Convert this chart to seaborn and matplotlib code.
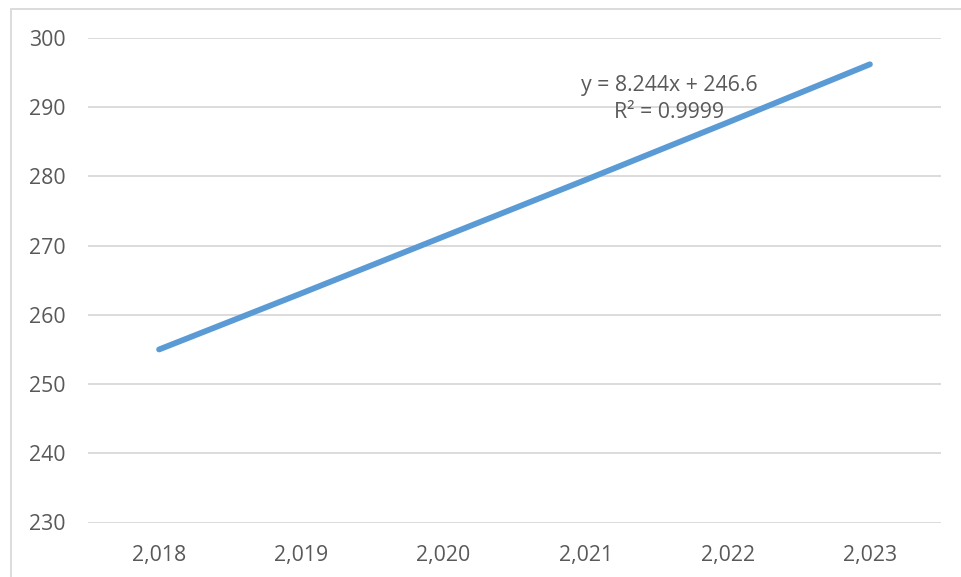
import matplotlib
matplotlib.use("Agg")
import matplotlib.pyplot as plt
from matplotlib.patches import Rectangle
import seaborn as sns
import pandas as pd

# Yearly series
years = [2018, 2019, 2020, 2021, 2022, 2023]
year_labels = ["2,018", "2,019", "2,020", "2,021", "2,022", "2,023"]
values = [255.0, 263.1, 271.3, 279.5, 287.8, 296.2]
y_ticks = [230, 240, 250, 260, 270, 280, 290, 300]
trend_lines = ["y = 8.244x + 246.6", "R² = 0.9999"]

sns.set_theme(style="white")
plt.rcParams["font.family"] = ["Open Sans", "DejaVu Sans"]

text_color = "#595959"
grid_color = "#D9D9D9"
line_color = "#5B9BD5"

fig = plt.figure(figsize=(9.61, 5.77), dpi=100)
W, H = 961, 577
ax = fig.add_axes([88 / W, 1 - 522.5 / H, (941 - 88) / W, (522.5 - 38) / H])

df = pd.DataFrame({"label": year_labels, "value": values})
sns.lineplot(data=df, x="label", y="value", ax=ax, color=line_color,
             linewidth=4.2, sort=False)
for ln in ax.lines:
    ln.set_solid_capstyle("round")

ax.set_xlim(-0.5, len(years) - 0.5)
ax.set_ylim(230, 300)
ax.set_yticks(y_ticks)
ax.set_xticks(range(len(years)))
ax.set_xticklabels(year_labels)
ax.set_xlabel("")
ax.set_ylabel("")

ax.yaxis.grid(True, color=grid_color, linewidth=1.3)
ax.xaxis.grid(False)
ax.set_axisbelow(True)
for s in ax.spines.values():
    s.set_visible(False)

ax.tick_params(axis="both", length=0, labelsize=15.3, labelcolor=text_color)
ax.tick_params(axis="y", pad=16)
ax.tick_params(axis="x", pad=16)

# Trendline label
ax.text(3.59, 293.2, trend_lines[0], ha="center", va="center",
        fontsize=15.3, color=text_color)
ax.text(3.59, 289.2, trend_lines[1], ha="center", va="center",
        fontsize=15.3, color=text_color)

# Chart area border
fig.patches.append(Rectangle((11 / W, -0.05), 1.1, 1 - 9 / H + 0.05,
                             transform=fig.transFigure, fill=False,
                             edgecolor=grid_color, linewidth=1.3))

fig.savefig("out.png", dpi=100, facecolor="white")
